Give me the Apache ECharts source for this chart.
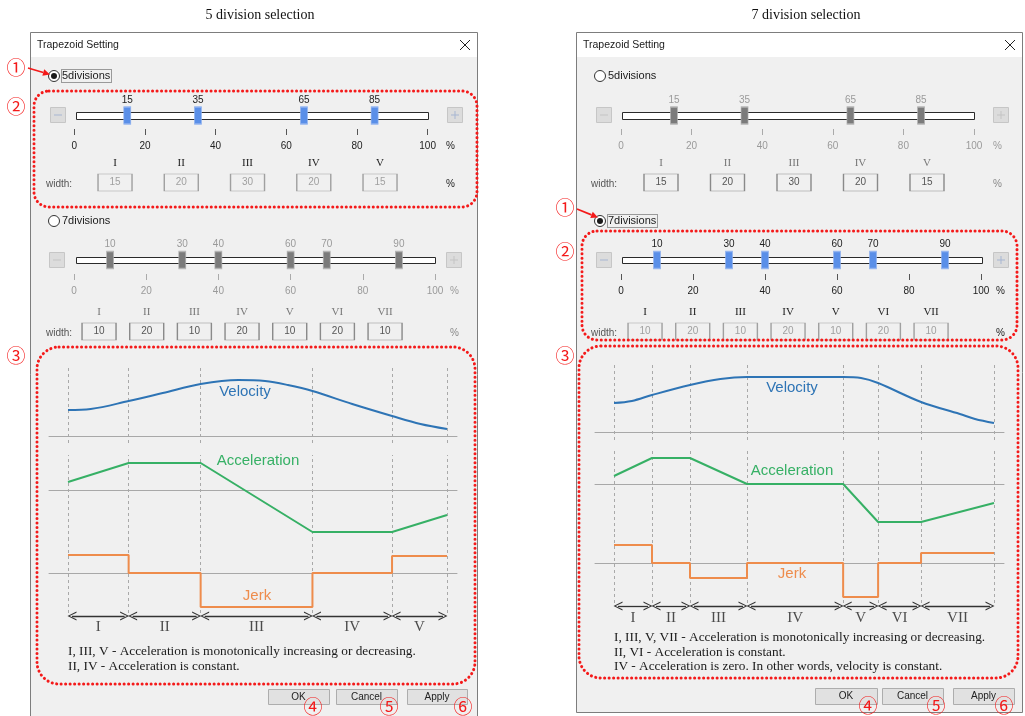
<!DOCTYPE html>
<html><head><meta charset="utf-8">
<script src="https://cdn.jsdelivr.net/npm/echarts@6/dist/echarts.min.js"></script>
<style>html,body{margin:0;padding:0;background:#fff}#c{width:1025px;height:716px}</style>
</head><body><div id="c"></div>
<script>
// ================= DATA =================
const panelTitles = ['5 division selection', '7 division selection'];
const dialogTitle = 'Trapezoid Setting';
const radioLabels = ['5divisions', '7divisions'];
const div5Points = [15, 35, 65, 85];
const div7Points = [10, 30, 40, 60, 70, 90];
const div5Numerals = ['I', 'II', 'III', 'IV', 'V'];
const div7Numerals = ['I', 'II', 'III', 'IV', 'V', 'VI', 'VII'];
const div5Widths = [15, 20, 30, 20, 15];
const div7Widths = [10, 20, 10, 20, 10, 20, 10];
// illustrative chart: segment boundaries on a 0-100 time axis
const chart5Bounds = [0, 16, 35, 64.5, 85.5, 100];
const chart7Bounds = [0, 10, 20, 35, 60.3, 69.5, 80.8, 100];
const velocity5 = [[0, 26], [6, 27], [16, 35], [25, 43], [35, 52], [45, 56], [52, 55], [58, 51], [64.5, 45], [75, 32], [85.5, 20], [93, 12], [100, 7]];
const acceleration5 = [[0, 8], [16, 27], [35, 27], [64.5, -42], [85.5, -42], [100, -25]];
const jerk5 = [[0, 18], [16, 0], [35, -34], [64.5, 0], [85.5, 17], [100, 17]];
const velocity7 = [[0, 29], [4.7, 31], [10, 37], [20, 47], [28, 53], [35, 55], [47.5, 55], [60.3, 55], [65, 54], [69.5, 49], [80.8, 30], [91, 18], [95, 13], [100, 9]];
const acceleration7 = [[0, 8], [10, 26], [20, 26], [35, 0], [60.3, 0], [69.5, -38], [80.8, -38], [100, -19]];
const jerk7 = [[0, 18], [10, 0], [20, -15], [35, 0], [60.3, -34], [69.5, 0], [80.8, 10], [100, 10]];
const curveNames = ['Velocity', 'Acceleration', 'Jerk'];
const notes5 = ['I, III, V - Acceleration is monotonically increasing or decreasing.', 'II, IV - Acceleration is constant.'];
const notes7 = ['I, III, V, VII - Acceleration is monotonically increasing or decreasing.', 'II, VI - Acceleration is constant.', 'IV - Acceleration is zero. In other words, velocity is constant.'];
const buttonLabels = ['OK', 'Cancel', 'Apply'];
const markers = ['①', '②', '③', '④', '⑤', '⑥'];

// ================= STYLE / LAYOUT =================
const SANS = '"Liberation Sans", Arial, sans-serif';
const SERIF = '"Liberation Serif", "Times New Roman", serif';
const CJK = '"Noto Sans CJK JP", sans-serif';
const RED = '#f41a1a';
const C_VEL = '#2e74b5', C_ACC = '#36b065', C_JERK = '#ee8c4c';

const opt = { animation: false, backgroundColor: '#fff', grid: [], xAxis: [], yAxis: [], series: [], graphic: { elements: [] } };
const G = opt.graphic.elements;

function addGrid(grid, x, y) {
  const i = opt.grid.length;
  opt.grid.push(Object.assign({ show: false, containLabel: false }, grid));
  opt.xAxis.push(Object.assign({ gridIndex: i }, x));
  opt.yAxis.push(Object.assign({ gridIndex: i }, y));
  return i;
}
function txt(x, y, s, st) {
  G.push({ type: 'text', x: x, y: y, z: 30, silent: true,
    style: Object.assign({ text: s, fill: '#222', font: '10.5px ' + SANS, textAlign: 'left', textVerticalAlign: 'middle', verticalAlign: 'middle' }, st || {}) });
}
function rect(x, y, w, h, st, z, r) {
  G.push({ type: 'rect', z: z == null ? 1 : z, silent: true, shape: { x: x, y: y, width: w, height: h, r: r || 0 }, style: st });
}
function line(x1, y1, x2, y2, st, z) {
  G.push({ type: 'line', z: z == null ? 25 : z, silent: true, shape: { x1: x1, y1: y1, x2: x2, y2: y2 }, style: st });
}
function redArrow(x1, y1, x2, y2) {
  const dx = x2 - x1, dy = y2 - y1, L = Math.hypot(dx, dy), ux = dx / L, uy = dy / L, nx = -uy, ny = ux;
  const bx = x2 - ux * 7, by = y2 - uy * 7;
  line(x1, y1, bx, by, { stroke: RED, lineWidth: 1.7 });
  G.push({ type: 'polygon', z: 25, silent: true, shape: { points: [[x2, y2], [bx + nx * 3.3, by + ny * 3.3], [bx - nx * 3.3, by - ny * 3.3]] }, style: { fill: RED } });
}
function dotRect(x, y, w, h, r) {
  G.push({ type: 'rect', z: 24, silent: true, shape: { x: x, y: y, width: w, height: h, r: r },
    style: { fill: null, stroke: RED, lineWidth: 3, lineDash: [0.1, 4.4], lineCap: 'round' } });
}
function marker(x, y, s) { txt(x, y, s, { fill: RED, font: '19px ' + CJK, textAlign: 'center' }); }

function dialog(d) {
  rect(d.x + 0.5, 32.5, d.w, d.h, { fill: '#f0f0f0', stroke: '#7d7d7d', lineWidth: 1 }, -10);
  rect(d.x + 1, 33, d.w - 1, 24, { fill: '#ffffff' }, -9);
  txt(d.x + 7, 45, dialogTitle, { font: '10.5px ' + SANS, fill: '#1a1a1a' });
  const cx = d.x + d.w - 12, cy = 45;
  line(cx - 5, cy - 5, cx + 5, cy + 5, { stroke: '#222', lineWidth: 1 });
  line(cx - 5, cy + 5, cx + 5, cy - 5, { stroke: '#222', lineWidth: 1 });
}
function radio(cx, cy, label, selected) {
  G.push({ type: 'circle', z: 20, silent: true, shape: { cx: cx, cy: cy, r: 5.5 }, style: { fill: '#fff', stroke: '#333', lineWidth: 1 } });
  if (selected) {
    G.push({ type: 'circle', z: 21, silent: true, shape: { cx: cx, cy: cy, r: 3 }, style: { fill: '#1a1a1a' } });
    rect(cx + 7.5, cy - 6.5, 50, 13, { fill: null, stroke: '#444', lineWidth: 1, lineDash: [1, 1] }, 20);
  }
  txt(cx + 8, cy, label, { font: '11px ' + SANS, fill: '#1a1a1a' });
}
function smallBtn(x, y, plus, act) {
  rect(x + 0.5, y + 0.5, 15, 15, { fill: '#dcdcdc', stroke: '#c6c6c6', lineWidth: 1 }, 2);
  const col = act ? '#a7b6d2' : '#c4c4c4';
  line(x + 4, y + 8, x + 12, y + 8, { stroke: col, lineWidth: 1 }, 3);
  if (plus) line(x + 8, y + 4, x + 8, y + 12, { stroke: col, lineWidth: 1 }, 3);
}
function slider(c, points) {
  const act = c.active, h = c.axisY - c.thumbY;
  const gi = addGrid({ left: c.x0, width: c.x1 - c.x0, top: c.thumbY - h, height: 2 * h },
    { type: 'value', min: 0, max: 100, interval: 20, position: 'bottom', axisLine: { show: false },
      axisTick: { show: true, length: 6, lineStyle: { color: act ? '#555' : '#aaa' } }, splitLine: { show: false },
      axisLabel: { show: true, margin: 12, fontSize: 10, fontFamily: SANS, color: act ? '#222' : '#9a9a9a' } },
    { type: 'value', min: 0, max: 1, show: false });
  opt.series.push({ type: 'scatter', xAxisIndex: gi, yAxisIndex: gi, silent: true, z: 5,
    data: points.map(p => [p, 0.5]), symbol: 'rect', symbolSize: [7, 17],
    itemStyle: { color: act ? '#5a8fe8' : '#7b7b7b', borderColor: act ? '#93b4ef' : '#b4b4b4', borderWidth: 1, opacity: 1 },
    label: { show: true, position: 'top', distance: 1, fontSize: 10, fontFamily: SANS, color: act ? '#222' : '#9a9a9a', formatter: p => String(p.value[0]) } });
  rect(c.track[0] + 0.5, c.track[1] + 0.5, c.track[2], c.track[3], { fill: '#fff', stroke: '#2a2a2a', lineWidth: 1 }, 1);
  smallBtn(c.minus[0], c.minus[1], false, act);
  smallBtn(c.plus[0], c.plus[1], true, act);
  txt(c.pctX, c.axisY + 17, '%', { font: '10px ' + SANS, fill: act ? '#222' : '#9a9a9a' });
}
function boxes(c, numerals, widths) {
  const act = c.active;
  const gi = addGrid({ left: c.left, width: c.width, top: c.top, height: 17 },
    { type: 'category', data: numerals, position: 'top', boundaryGap: true, axisLine: { show: false }, axisTick: { show: false },
      axisLabel: { show: true, margin: 5, fontSize: 11, fontFamily: SERIF, color: act ? '#222' : '#777' } },
    { type: 'value', min: 0, max: 1, show: false });
  opt.series.push({ type: 'scatter', xAxisIndex: gi, yAxisIndex: gi, silent: true, z: 5,
    data: widths.map((w, i) => [i, 0.5]), symbol: 'rect', symbolSize: [34, 17],
    itemStyle: { color: '#f0f0f0', borderColor: act ? '#a0a0a0' : '#8a8a8a', borderWidth: 1, opacity: 1 },
    label: { show: true, position: 'inside', fontSize: 10, fontFamily: SANS, color: act ? '#a0a0a0' : '#555', formatter: p => String(widths[p.dataIndex]) } });
  txt(c.widthX, c.top + 10, 'width:', { font: '10px ' + SANS, fill: '#555' });
  txt(c.pctX, c.top + 10, '%', { font: '10px ' + SANS, fill: act ? '#222' : '#888' });
}
function panel(c, p, data, color, kind, bounds) {
  const gi = addGrid({ left: c.gridLeft, width: c.gridWidth, top: p.top, height: p.bottom - p.top },
    { type: 'value', min: c.xmin, max: c.xmax, axisLine: { show: true, onZero: true, lineStyle: { color: '#a8a8a8', width: 1 } },
      axisTick: { show: false }, axisLabel: { show: false }, splitLine: { show: false } },
    { type: 'value', min: -(p.bottom - p.base), max: p.base - p.top, show: false, splitLine: { show: false } });
  opt.series.push({ type: 'line', xAxisIndex: gi, yAxisIndex: gi, data: data, silent: true, showSymbol: false, symbol: 'none',
    smooth: kind === 'vel' ? 0.35 : false, step: kind === 'jerk' ? 'end' : false, z: 4,
    lineStyle: { color: color, width: 2 },
    markLine: { silent: true, symbol: ['none', 'none'], label: { show: false }, z: 3,
      lineStyle: { color: '#a9a9a9', type: [3, 3], width: 1 }, emphasis: { disabled: true },
      data: bounds.map(b => ({ xAxis: b })) } });
}
const CHEVRON = 'path://M0,10 L5,0 L10,10 L8.7,10 L5,2.4 L1.3,10 Z';
function arrowsRow(c, bounds, numerals) {
  const gi = addGrid({ left: c.gridLeft, width: c.gridWidth, top: c.arrowY - 15, height: 30 },
    { type: 'value', min: c.xmin, max: c.xmax, show: false },
    { type: 'value', min: -15, max: 15, show: false });
  const inset = 4 / c.pxPerUnit;
  const mids = numerals.map((n, i) => [(bounds[i] + bounds[i + 1]) / 2, c.arrowY - c.numY]);
  opt.series.push({ type: 'scatter', xAxisIndex: gi, yAxisIndex: gi, silent: true, z: 6, data: mids, symbolSize: 1,
    itemStyle: { color: 'rgba(0,0,0,0)' },
    label: { show: true, position: 'inside', fontSize: 15, fontFamily: SERIF, color: '#222', formatter: p => numerals[p.dataIndex] },
    markLine: { silent: true, symbol: [CHEVRON, CHEVRON], symbolSize: 9, label: { show: false },
      lineStyle: { color: '#333', width: 1.3, type: 'solid' }, emphasis: { disabled: true },
      data: numerals.map((n, i) => [{ coord: [bounds[i] + inset, 0] }, { coord: [bounds[i + 1] - inset, 0] }]) } });
}
function side(s, d) {
  txt(s.titleX, 15, d.title, { font: '14px ' + SERIF, fill: '#111', textAlign: 'center' });
  dialog(s.dialog);
  radio(s.radio5[0], s.radio5[1], radioLabels[0], d.sel === 5);
  radio(s.radio7[0], s.radio7[1], radioLabels[1], d.sel === 7);
  slider(s.slider5, div5Points);
  slider(s.slider7, div7Points);
  boxes(s.boxes5, div5Numerals, div5Widths);
  boxes(s.boxes7, div7Numerals, div7Widths);
  const c = s.chart;
  panel(c, c.vel, d.vel, C_VEL, 'vel', d.bounds);
  panel(c, c.acc, d.acc, C_ACC, 'acc', d.bounds);
  panel(c, c.jerk, d.jerk, C_JERK, 'jerk', d.bounds);
  arrowsRow(c, d.bounds, d.numerals);
  txt(c.labels[0][0], c.labels[0][1], curveNames[0], { font: '15px ' + SANS, fill: C_VEL, textAlign: 'center' });
  txt(c.labels[1][0], c.labels[1][1], curveNames[1], { font: '15px ' + SANS, fill: C_ACC, textAlign: 'center' });
  txt(c.labels[2][0], c.labels[2][1], curveNames[2], { font: '15px ' + SANS, fill: C_JERK, textAlign: 'center' });
  d.notes.forEach((n, i) => txt(c.notesX, c.notesY[i], n, { font: '13.3px ' + SERIF, fill: '#1a1a1a' }));
  s.buttons.forEach((b, i) => {
    rect(b[0] + 0.5, b[1] + 0.5, b[2], b[3], { fill: '#e1e1e1', stroke: '#adadad', lineWidth: 1 }, 2);
    txt(b[0] + b[2] / 2, b[1] + b[3] / 2 + 0.5, buttonLabels[i], { font: '10px ' + SANS, fill: '#222', textAlign: 'center' });
  });
  s.marks.forEach((m, i) => marker(m[0], m[1], markers[i]));
  redArrow(s.arrow[0], s.arrow[1], s.arrow[2], s.arrow[3]);
  dotRect(s.rect2[0], s.rect2[1], s.rect2[2], s.rect2[3], 15);
  dotRect(s.rect3[0], s.rect3[1], s.rect3[2], s.rect3[3], 22);
}

const leftLayout = {
  titleX: 260,
  dialog: { x: 30, w: 447, h: 700 },
  radio5: [54, 76], radio7: [54, 221],
  slider5: { active: true, x0: 74.3, x1: 427.6, thumbY: 115.5, axisY: 129, track: [76, 112, 352, 7], minus: [50, 107], plus: [447, 107], pctX: 446 },
  slider7: { active: false, x0: 74, x1: 435, thumbY: 260, axisY: 274, track: [76, 257, 359, 6], minus: [49, 252], plus: [446, 252], pctX: 450 },
  boxes5: { active: true, left: 81.9, width: 331.25, top: 174, widthX: 46, pctX: 446 },
  boxes7: { active: false, left: 75.2, width: 333.7, top: 323, widthX: 46, pctX: 450 },
  chart: { gridLeft: 49, gridWidth: 408, xmin: -5.013, xmax: 102.64, pxPerUnit: 3.79,
    vel: { top: 366, bottom: 443, base: 436 }, acc: { top: 455, bottom: 540, base: 490 }, jerk: { top: 540, bottom: 613, base: 573 },
    arrowY: 616, numY: 627, labels: [[245, 392], [258, 461], [257, 596]], notesX: 68, notesY: [652, 667] },
  buttons: [[268, 689, 61, 15], [336, 689, 61, 15], [407, 689, 60, 15]],
  marks: [[16, 68], [16, 107], [16, 356], [313, 707], [389, 707], [463, 707]],
  arrow: [28, 68, 50, 74.5],
  rect2: [34, 91, 443, 116], rect3: [37, 347, 438, 337]
};
const rightLayout = {
  titleX: 806,
  dialog: { x: 576, w: 446, h: 680 },
  radio5: [600, 76], radio7: [600, 221],
  slider5: { active: false, x0: 621, x1: 974, thumbY: 115.5, axisY: 129, track: [622, 112, 352, 7], minus: [596, 107], plus: [993, 107], pctX: 993 },
  slider7: { active: true, x0: 621, x1: 981, thumbY: 260, axisY: 274, track: [622, 257, 360, 6], minus: [596, 252], plus: [993, 252], pctX: 996 },
  boxes5: { active: false, left: 627.75, width: 332.5, top: 174, widthX: 591, pctX: 993 },
  boxes7: { active: true, left: 621.2, width: 333.7, top: 323, widthX: 591, pctX: 996 },
  chart: { gridLeft: 595, gridWidth: 409, xmin: -5, xmax: 102.63, pxPerUnit: 3.8,
    vel: { top: 365, bottom: 440, base: 432 }, acc: { top: 448, bottom: 532, base: 484 }, jerk: { top: 532, bottom: 603, base: 563 },
    arrowY: 606, numY: 618, labels: [[792, 388], [792, 471], [792, 574]], notesX: 614, notesY: [638, 653, 667] },
  buttons: [[815, 688, 62, 16], [882, 688, 61, 16], [953, 688, 61, 16]],
  marks: [[565, 208], [565, 252], [565, 356], [868, 706], [936, 706], [1004, 706]],
  arrow: [577, 209, 598, 217.5],
  rect2: [582, 231, 435, 109], rect3: [579, 346, 439, 332]
};

side(leftLayout, { title: panelTitles[0], sel: 5, bounds: chart5Bounds, vel: velocity5, acc: acceleration5, jerk: jerk5, numerals: div5Numerals, notes: notes5 });
side(rightLayout, { title: panelTitles[1], sel: 7, bounds: chart7Bounds, vel: velocity7, acc: acceleration7, jerk: jerk7, numerals: div7Numerals, notes: notes7 });

const chart = echarts.init(document.getElementById('c'), null, { renderer: 'canvas' });
chart.setOption(opt);
</script></body></html>
